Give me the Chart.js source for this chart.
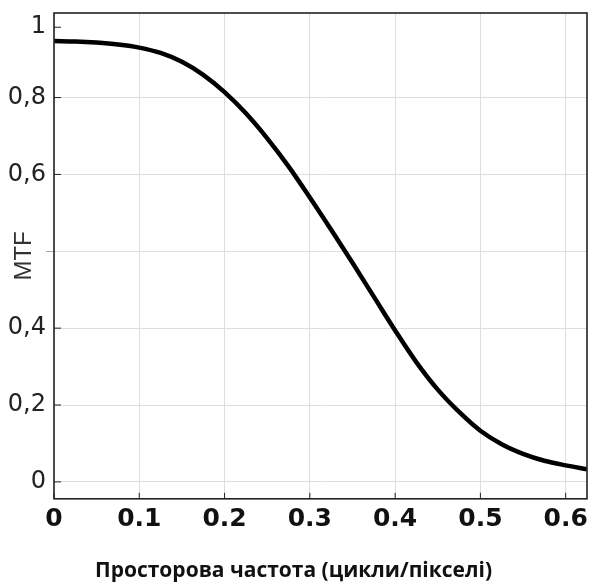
<!DOCTYPE html>
<html>
<head>
<meta charset="utf-8">
<style>
    html, body { margin: 0; padding: 0; background: #fff; }
    .wrap { width: 589px; height: 584px; }
</style>
<script src="https://cdn.jsdelivr.net/npm/chart.js@4.4.0/dist/chart.umd.min.js"></script>
</head>
<body>
<div class="wrap"><canvas id="mtf" width="589" height="584"></canvas></div>
<script>
    // spatial frequency (cycles/pixel) and curve height in gridline units
    var freq = [0, 0.025, 0.05, 0.075, 0.1, 0.125, 0.15, 0.175, 0.2, 0.225, 0.25, 0.275, 0.3, 0.325,
                0.35, 0.375, 0.4, 0.425, 0.45, 0.475, 0.5, 0.525, 0.55, 0.575, 0.6, 0.625];
    var mtf = [1.147, 1.146, 1.143, 1.138, 1.130, 1.116, 1.093, 1.059, 1.014, 0.959, 0.894, 0.821, 0.740, 0.656,
               0.570, 0.482, 0.394, 0.311, 0.240, 0.182, 0.133, 0.098, 0.073, 0.055, 0.043, 0.033];

    var xTickVals = [0, 0.1, 0.2, 0.3, 0.4, 0.5, 0.6];
    // y labels as printed on the original (the 0.6 gridline has no label, "1" sits above the top gridline)
    var yTickVals = [0, 0.2, 0.4, 0.6, 0.8, 1.0, 1.183];
    var yTickLabels = ['0', '0,2', '0,4', '', '0,6', '0,8', '1'];

    var xTitle = 'Просторова частота (цикли/пікселі)';
    var yTitle = 'MTF';

    var points = freq.map(function(f, i) { return { x: f, y: mtf[i] }; });

    // box around plot + short inward tick marks
    var framePlugin = {
        id: 'frame',
        afterDatasetsDraw: function(chart) {
            var a = chart.chartArea, c = chart.ctx;
            var xs = chart.scales.x, ys = chart.scales.y;
            c.save();
            c.strokeStyle = '#222';
            c.lineWidth = 1;
            xs.ticks.forEach(function(t) {
                var px = xs.getPixelForValue(t.value);
                c.beginPath(); c.moveTo(px, a.bottom); c.lineTo(px, a.bottom - 6); c.stroke();
            });
            ys.ticks.forEach(function(t, i) {
                if (yTickLabels[i] === '') return;
                var py = ys.getPixelForValue(t.value);
                c.beginPath(); c.moveTo(a.left, py); c.lineTo(a.left + 7, py); c.stroke();
            });
            c.lineWidth = 1.6;
            c.strokeRect(a.left, a.top, a.right - a.left, a.bottom - a.top);
            c.restore();
        }
    };

    new Chart(document.getElementById('mtf').getContext('2d'), {
        type: 'line',
        data: {
            datasets: [{
                data: points,
                borderColor: '#000',
                borderWidth: 4.5,
                pointRadius: 0,
                fill: false,
                cubicInterpolationMode: 'monotone'
            }]
        },
        options: {
            responsive: false,
            animation: false,
            layout: { padding: { top: 13, right: 2, left: 0, bottom: 0 } },
            plugins: {
                legend: { display: false },
                tooltip: { enabled: false },
                title: {
                    display: true,
                    text: xTitle,
                    position: 'bottom',
                    color: '#111',
                    font: { family: 'Open Sans', weight: 'bold', size: 21 },
                    padding: { top: 0, bottom: 0 }
                }
            },
            scales: {
                x: {
                    type: 'linear',
                    min: 0,
                    max: 0.625,
                    afterBuildTicks: function(s) { s.ticks = xTickVals.map(function(v) { return { value: v }; }); },
                    afterFit: function(s) { s.height = 60; s.paddingLeft = 0; s.paddingRight = 0; },
                    grid: { color: '#dedede', drawTicks: false },
                    border: { display: false },
                    ticks: {
                        padding: 6,
                        color: '#111',
                        font: { family: 'DejaVu Sans', weight: 'bold', size: 25 },
                        callback: function(v) { return v === 0 ? '0' : v.toFixed(1); }
                    }
                },
                y: {
                    type: 'linear',
                    min: -0.044,
                    max: 1.22,
                    afterBuildTicks: function(s) { s.ticks = yTickVals.map(function(v) { return { value: v }; }); },
                    afterFit: function(s) { s.width = 54; s.paddingTop = 0; s.paddingBottom = 0; },
                    grid: {
                        color: function(ctx) { return ctx.index === 6 ? 'rgba(0,0,0,0)' : '#dedede'; },
                        tickColor: function(ctx) { return ctx.index === 3 ? '#aaa' : 'rgba(0,0,0,0)'; },
                        tickLength: 8
                    },
                    border: { display: false },
                    title: {
                        display: true,
                        text: yTitle,
                        color: '#333',
                        font: { family: 'Liberation Sans', size: 24 },
                        padding: { top: 10, bottom: 0 }
                    },
                    ticks: {
                        padding: 0,
                        color: '#222',
                        font: { family: 'DejaVu Sans', size: 24 },
                        callback: function(v, i) { return yTickLabels[i]; }
                    }
                }
            }
        },
        plugins: [framePlugin]
    });
</script>
</body>
</html>
